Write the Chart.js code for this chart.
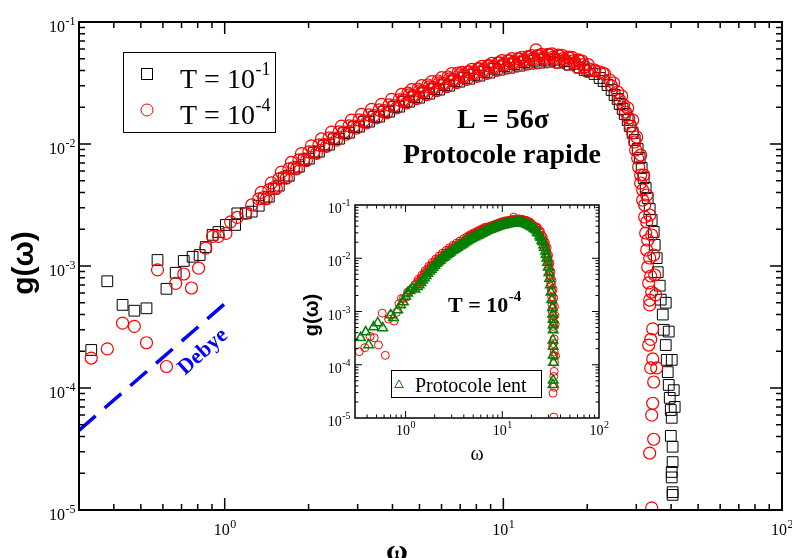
<!DOCTYPE html>
<html>
<head>
<meta charset="utf-8">
<script src="https://cdn.jsdelivr.net/npm/chart.js@4.4.0/dist/chart.umd.min.js"></script>
<style>
  body { margin: 0; background: #fff; }
  #wrap { position: relative; width: 792px; height: 558px; overflow: hidden; background: #fff; }
  #mainChart { position: absolute; left: 0; top: 0; }
  #insetChart { position: absolute; left: 300px; top: 190px; }
</style>
</head>
<body>
<div id="wrap">
  <canvas id="mainChart" width="792" height="558"></canvas>
  <canvas id="insetChart" width="315" height="280"></canvas>
</div>
<script>
// g(omega) pour T = 1e-1 (carrés noirs), [omega, g]
const pointsT1 = [
  [0.332,2.05e-4],[0.379,7.5e-4],[0.43,4.8e-4],[0.474,4.3e-4],[0.524,4.5e-4],[0.574,1.12e-3],
  [0.618,6.5e-4],[0.667,8.8e-4],[0.713,1.1e-3],[0.767,1.19e-3],[0.813,1.23e-3],[0.855,1.43e-3],
  [0.905,1.8e-3],[0.95,1.9e-3],[1.01,2.17e-3],[1.09,2.17e-3],[1.11,2.7e-3],[1.19,2.7e-3],
  [1.25,2.79e-3],[1.325,3.12e-3],[1.381,3.56e-3],[1.44,3.70e-3],[1.501,4.30e-3],[1.564,4.56e-3],
  [1.63,5.24e-3],[1.699,5.50e-3],[1.771,6.27e-3],[1.846,6.52e-3],[1.924,7.36e-3],[2.005,7.58e-3],
  [2.09,8.48e-3],[2.179,8.65e-3],[2.271,9.68e-3],[2.367,9.88e-3],[2.467,1.094e-2],[2.572,1.106e-2],
  [2.68,1.226e-2],[2.793,1.239e-2],[2.911,1.373e-2],[3.034,1.387e-2],[3.162,1.523e-2],[3.296,1.525e-2],
  [3.436,1.673e-2],[3.581,1.675e-2],[3.732,1.839e-2],[3.89,1.841e-2],[4.054,2.021e-2],[4.226,2.024e-2],
  [4.405,2.221e-2],[4.591,2.223e-2],[4.785,2.418e-2],[4.987,2.398e-2],[5.198,2.607e-2],[5.418,2.586e-2],
  [5.647,2.812e-2],[5.886,2.789e-2],[6.135,3.033e-2],[6.394,3.008e-2],[6.664,3.27e-2],[6.946,3.243e-2],
  [7.24,3.493e-2],[7.546,3.432e-2],[7.865,3.699e-2],[8.198,3.632e-2],[8.545,3.912e-2],[8.905,3.844e-2],
  [9.282,4.14e-2],[9.674,4.067e-2],[10.08,4.34e-2],[10.51,4.223e-2],[10.95,4.51e-2],[11.42,4.386e-2],
  [11.9,4.68e-2],[12.4,4.555e-2],[12.93,4.814e-2],[13.48,4.642e-2],[14.04,4.906e-2],[14.64,4.73e-2],
  [15.26,4.906e-2],[15.9,4.642e-2],[16.58,4.77e-2],[17.28,4.47e-2],[18.01,4.55e-2],[18.77,4.223e-2],
  [19.56,4.05e-2],[20.39,3.967e-2],[21.25,3.748e-2],[22.15,3.476e-2],[22.89,3.284e-2],[23.66,3.044e-2],
  [24.46,2.771e-2],[25.07,2.521e-2],[25.71,2.338e-2],[26.15,2.128e-2],[26.8,1.936e-2],[27.25,1.762e-2],
  [27.93,1.573e-2],[28.4,1.405e-2],[29.11,1.231e-2],[29.6,1.078e-2],[30.34,9.1e-3],[30.85,7.68e-3],
  [31.36,6.36e-3],[31.89,5.26e-3],[32.42,4.36e-3],[32.96,3.61e-3],[33.51,2.93e-3],[34.07,2.38e-3],
  [34.64,1.9e-3],[34.93,1.49e-3],[35.51,1.16e-3],[35.81,8.9e-4],[36.41,6.9e-4],[36.71,5.3e-4],
  [37.33,4.0e-4],[37.64,3.0e-4],[38.27,2.25e-4],[38.58,1.7e-4],[38.9,1.35e-4],[39.22,1.06e-4],
  [39.55,8.3e-5],[39.88,6.6e-5],[38.27,5.0e-4],[39.22,2.9e-4],[40.21,1.7e-4],[40.88,9.6e-5],
  [41.2,7.0e-5],[40.2,5.7e-5],[39.9,4.05e-5],[40.5,3.3e-5],[40.5,2.47e-5],[40.2,2.05e-5],
  [40.2,1.85e-5],[40.5,1.4e-5],[40.5,1.33e-5]
];

// g(omega) pour T = 1e-4 (cercles rouges), protocole rapide
const pointsT4 = [
  [0.332,1.76e-4],[0.379,2.09e-4],[0.43,3.4e-4],[0.474,3.2e-4],[0.524,2.35e-4],[0.574,9.3e-4],
  [0.618,1.5e-4],[0.667,7.2e-4],[0.713,8.6e-4],[0.76,6.6e-4],[0.806,9.6e-4],[0.855,1.4e-3],
  [0.905,1.75e-3],[0.95,1.75e-3],[1.01,1.85e-3],[1.05,2.3e-3],[1.11,2.5e-3],[1.19,2.7e-3],
  [1.25,3.165e-3],[1.325,3.545e-3],[1.381,3.643e-3],[1.44,4.202e-3],[1.501,4.399e-3],[1.564,5.17e-3],
  [1.63,5.363e-3],[1.699,6.245e-3],[1.771,6.418e-3],[1.846,7.4e-3],[1.924,7.534e-3],[2.005,8.61e-3],
  [2.09,8.68e-3],[2.179,9.82e-3],[2.271,9.91e-3],[2.367,1.121e-2],[2.467,1.12e-2],[2.572,1.255e-2],
  [2.68,1.254e-2],[2.793,1.406e-2],[2.911,1.405e-2],[3.034,1.574e-2],[3.162,1.558e-2],[3.296,1.73e-2],
  [3.436,1.712e-2],[3.581,1.901e-2],[3.732,1.882e-2],[3.89,2.089e-2],[4.054,2.068e-2],[4.226,2.297e-2],
  [4.405,2.273e-2],[4.591,2.523e-2],[4.785,2.474e-2],[4.987,2.722e-2],[5.198,2.668e-2],[5.418,2.935e-2],
  [5.647,2.877e-2],[5.886,3.165e-2],[6.135,3.103e-2],[6.394,3.413e-2],[6.664,3.346e-2],[6.946,3.681e-2],
  [7.24,3.575e-2],[7.546,3.895e-2],[7.865,3.784e-2],[8.198,4.123e-2],[8.545,4.004e-2],[8.905,4.363e-2],
  [9.282,4.236e-2],[9.674,4.616e-2],[10.08,4.441e-2],[10.51,4.794e-2],[10.95,4.612e-2],[11.42,4.979e-2],
  [11.9,4.789e-2],[12.4,5.17e-2],[12.93,4.927e-2],[13.1,5.9e-2],[13.48,5.27e-2],[14.04,5.021e-2],
  [14.64,5.37e-2],[15.26,5.021e-2],[15.9,5.27e-2],[16.58,4.88e-2],[17.28,5.07e-2],[18.01,4.656e-2],
  [18.77,4.794e-2],
  // bords haut et bas de la bande
  [1.353,4.01e-3],[1.41,3.55e-3],[1.47,4.80e-3],[1.532,4.325e-3],[1.597,5.875e-3],[1.664,5.25e-3],
  [1.735,7.06e-3],[1.808,6.25e-3],[1.885,8.33e-3],[1.964,7.30e-3],[2.048,9.64e-3],[2.134,8.37e-3],
  [2.224,1.10e-2],[2.318,9.55e-3],[2.416,1.25e-2],[2.518,1.075e-2],[2.625,1.40e-2],[2.736,1.204e-2],
  [2.851,1.568e-2],[2.972,1.349e-2],[3.097,1.747e-2],[3.228,1.489e-2],[3.365,1.92e-2],[3.508,1.636e-2],
  [3.655,2.11e-2],[3.81,1.798e-2],[3.971,2.32e-2],[4.14,1.976e-2],[4.314,2.548e-2],[4.497,2.172e-2],
  [4.688,2.787e-2],[4.885,2.353e-2],[5.092,3.006e-2],[5.307,2.537e-2],[5.532,3.242e-2],[5.766,2.737e-2],
  [6.01,3.496e-2],[6.264,2.951e-2],[6.527,3.771e-2],[6.804,3.183e-2],[7.091,3.866e-2],[7.391,3.384e-2],
  [7.702,4.09e-2],[8.028,3.581e-2],[8.368,4.329e-2],[8.722,3.791e-2],[9.092,4.581e-2],[9.476,4.01e-2],
  [9.876,4.823e-2],[10.29,4.183e-2],[10.73,5.01e-2],[11.18,4.345e-2],[11.65,5.14e-2],[12.15,4.512e-2],
  [12.66,5.31e-2],[13.2,4.62e-2],[13.75,5.42e-2],[14.34,4.709e-2],[14.94,5.47e-2],[15.57,4.664e-2],
  [16.23,5.34e-2],[16.92,4.512e-2],[17.64,5.12e-2],[18.38,4.283e-2],[19.16,4.79e-2],[19.97,3.936e-2],
  // zone dense omega 4..20
  [4.36,2.298e-2],[4.544,2.611e-2],[4.737,2.507e-2],[4.935,2.823e-2],[5.145,2.705e-2],[5.362,3.044e-2],
  [5.589,2.917e-2],[5.826,3.283e-2],[6.072,3.146e-2],[6.327,3.54e-2],[6.596,3.392e-2],[6.874,3.819e-2],
  [7.165,3.632e-2],[7.468,3.912e-2],[7.784,3.844e-2],[8.114,4.141e-2],[8.457,4.068e-2],[8.813,4.382e-2],
  [9.186,4.305e-2],[9.574,4.636e-2],[9.979,4.522e-2],[10.4,4.826e-2],[10.84,4.697e-2],[11.3,5.012e-2],
  [11.78,4.877e-2],[12.27,5.205e-2],[12.79,5.03e-2],[13.34,5.317e-2],[13.9,5.126e-2],[14.49,5.418e-2],
  [15.1,5.15e-2],[15.74,5.342e-2],[16.4,5.018e-2],[17.1,5.156e-2],[17.82,4.799e-2],[18.58,4.884e-2],
  [19.36,4.471e-2],[20.17,4.466e-2],
  // chute vers omega ~ 33
  [19.56,4.276e-2],[20.39,4.119e-2],[21.25,3.967e-2],[21.25,4.042e-2],
  [22.15,3.892e-2],[24.06,3.346e-2],[25.71,2.668e-2],[27.02,2.088e-2],[28.17,1.633e-2],[29.11,1.231e-2],
  [29.84,8.93e-3],[30.59,6.48e-3],[31.1,4.79e-3],[31.62,3.475e-3],[32.15,2.521e-3],[32.42,1.864e-3],
  [32.69,1.352e-3],[32.96,9.81e-4],[33.23,7.26e-4],[33.51,5.26e-4],
  [23.09,3.748e-2],[24.87,3.162e-2],[26.58,2.474e-2],[27.93,1.973e-2],[29.11,1.573e-2],[30.09,1.141e-2],
  [31.1,8.12e-3],[31.89,5.57e-3],[32.69,3.82e-3],[33.51,2.618e-3],[34.07,1.795e-3],[34.64,1.231e-3],
  [34.93,8.44e-4],[35.23,5.79e-4],
  [22.71,3.819e-2],[24.46,2.988e-2],[26.15,2.294e-2],[27.47,1.83e-2],[28.63,1.405e-2],[29.6,1.038e-2],
  [30.34,7.68e-3],[31.1,5.57e-3],[31.62,4.2e-3],[32.15,3.162e-3],[32.69,2.294e-3],[32.96,1.633e-3],
  [33.51,1.163e-3],[33.79,8.28e-4],[34.07,6.12e-4],
  [33.51,4.8e-4],[34.36,3.05e-4],[33.79,2.5e-4],[33.23,2.25e-4],[34.36,1.73e-4],[33.79,1.46e-4],
  [35.51,1.46e-4],[34.64,1.12e-4],[34.36,7.5e-5],[34.07,6.0e-5],[34.64,3.8e-5],[33.51,2.93e-5],
  [34.07,1.04e-5]
];

// g(omega) protocole lent, T = 1e-4 (triangles verts, encart)
const pointsLent = [
  [0.343,3.2e-4],[0.387,4.1e-4],[0.415,2.35e-4],[0.468,5.1e-4],[0.515,6.1e-4],[0.58,4.9e-4],
  [0.70,8.6e-4],[0.75,7.6e-4],[0.83,1.07e-3],[0.89,1.33e-3],[0.95,1.5e-3],
  [1.0,1.91e-3],[1.05,2.19e-3],[1.11,2.45e-3],[1.17,2.69e-3],[1.25,2.63e-3],[1.325,2.92e-3],
  [1.381,3.16e-3],[1.44,3.47e-3],[1.501,3.85e-3],[1.564,4.27e-3],[1.63,4.68e-3],[1.699,5.19e-3],
  [1.771,5.69e-3],[1.846,6.17e-3],[1.924,6.68e-3],[2.005,7.33e-3],[2.09,7.94e-3],[2.179,8.51e-3],
  [2.271,9.12e-3],[2.367,9.77e-3],[2.467,1.035e-2],[2.572,1.096e-2],[2.68,1.161e-2],[2.793,1.23e-2],
  [2.911,1.303e-2],[3.034,1.38e-2],[3.162,1.445e-2],[3.296,1.514e-2],[3.436,1.585e-2],[3.581,1.679e-2],
  [3.732,1.758e-2],[3.89,1.841e-2],[4.054,1.928e-2],[4.226,2.042e-2],[4.405,2.138e-2],[4.591,2.239e-2],
  [4.785,2.328e-2],[4.987,2.415e-2],[5.198,2.512e-2],[5.418,2.612e-2],[5.647,2.71e-2],[5.886,2.818e-2],
  [6.135,2.931e-2],[6.394,3.041e-2],[6.664,3.162e-2],[6.946,3.289e-2],[7.24,3.388e-2],[7.546,3.491e-2],
  [7.865,3.589e-2],[8.198,3.698e-2],[8.545,3.802e-2],[8.905,3.908e-2],[9.282,4.018e-2],[9.674,4.121e-2],
  [10.08,4.198e-2],[10.51,4.266e-2],[10.95,4.345e-2],[11.42,4.416e-2],[11.9,4.498e-2],[12.4,4.571e-2],
  [12.93,4.613e-2],[13.48,4.645e-2],[14.04,4.677e-2],[14.64,4.71e-2],[15.26,4.677e-2],[15.9,4.624e-2],
  [16.58,4.54e-2],[17.28,4.446e-2],[18.01,4.315e-2],[18.77,4.188e-2],[19.56,3.981e-2],[20.39,3.802e-2],
  [21.25,3.589e-2],[22.15,3.388e-2],[23.0,3.09e-2],[23.66,2.951e-2],[24.46,2.63e-2],[25.07,2.455e-2],
  [25.71,2.188e-2],[26.15,2.042e-2],[26.8,1.778e-2],[27.25,1.585e-2],[27.93,1.349e-2],[28.4,1.175e-2],
  [28.87,1.0e-2],[29.35,8.32e-3],[29.84,6.76e-3],[30.34,5.37e-3],[30.85,4.17e-3],[31.36,3.16e-3],
  [31.89,2.29e-3],[32.42,1.66e-3],[32.96,1.17e-3],[33.2,8.9e-4],[33.5,7.1e-4],[33.6,5.6e-4],
  [33.6,4.5e-4],[33.4,2.9e-4],[33.6,2.2e-4],[33.6,1.5e-4],[33.8,1.1e-4],[33.6,5.1e-5],[33.4,4.2e-5]
];

// Droite de Debye (extrémités)
const debyeOmega = [0.3, 1.0];
const debyeG = [4.5e-5, 4.9e-4];

// Bornes des axes et exposants des étiquettes
const xRange = [0.3, 100];
const yRange = [1e-5, 1e-1];
const xTickExp = [0, 1, 2];
const yTickExp = [-5, -4, -3, -2, -1];

const toXY = arr => arr.map(p => ({ x: p[0], y: p[1] }));
const SERIF = '"Liberation Serif", "Times New Roman", serif';
const SANS = '"Liberation Sans", Arial, sans-serif';

// Graduations log : 1..9 x 10^k strictement à l'intérieur
function logTicks(min, max) {
  const out = [];
  for (let k = Math.floor(Math.log10(min)); k <= Math.ceil(Math.log10(max)); k++) {
    for (let m = 1; m <= 9; m++) {
      const v = m * Math.pow(10, k);
      if (v > min * 1.001 && v < max * 0.999) out.push({ v: v, major: m === 1 });
    }
  }
  return out;
}

// Écrit "10" avec exposant
function drawPow(ctx, exp, x, y, align, f) {
  const base = '10', sup = String(exp);
  ctx.font = f.weight + ' ' + f.size + 'px ' + SERIF;
  const wb = ctx.measureText(base).width;
  ctx.font = f.weight + ' ' + f.sup + 'px ' + SERIF;
  const ws = ctx.measureText(sup).width;
  let x0 = x;
  if (align === 'center') x0 = x - (wb + ws) / 2;
  if (align === 'right') x0 = x - wb - ws;
  ctx.textAlign = 'left';
  ctx.textBaseline = 'alphabetic';
  ctx.font = f.weight + ' ' + f.size + 'px ' + SERIF;
  ctx.fillText(base, x0, y);
  ctx.font = f.weight + ' ' + f.sup + 'px ' + SERIF;
  ctx.fillText(sup, x0 + wb + 0.5, y - f.rise);
  return x0 + wb + ws;
}

// Cadre, graduations vers l'intérieur et étiquettes 10^n
const logFrame = {
  id: 'logFrame',
  afterDatasetsDraw(chart, args, o) {
    const ctx = chart.ctx, a = chart.chartArea;
    const xs = chart.scales.x, ys = chart.scales.y;
    ctx.save();
    ctx.strokeStyle = '#000';
    ctx.fillStyle = '#000';
    ctx.lineWidth = o.tickWidth;
    ctx.beginPath();
    logTicks(xs.min, xs.max).forEach(t => {
      const px = xs.getPixelForValue(t.v);
      const len = t.major ? o.major : o.minor;
      ctx.moveTo(px, a.bottom); ctx.lineTo(px, a.bottom - len);
      ctx.moveTo(px, a.top); ctx.lineTo(px, a.top + len);
    });
    logTicks(ys.min, ys.max).forEach(t => {
      const py = ys.getPixelForValue(t.v);
      const len = t.major ? o.major : o.minor;
      ctx.moveTo(a.left, py); ctx.lineTo(a.left + len, py);
      ctx.moveTo(a.right, py); ctx.lineTo(a.right - len, py);
    });
    ctx.stroke();
    ctx.lineWidth = o.lineWidth;
    ctx.strokeRect(a.left, a.top, a.right - a.left, a.bottom - a.top);

    o.xExp.forEach(e => {
      drawPow(ctx, e, xs.getPixelForValue(Math.pow(10, e)), a.bottom + o.xLabelDy, 'center', o.font);
    });
    o.yExp.forEach(e => {
      drawPow(ctx, e, a.left - o.yLabelDx, ys.getPixelForValue(Math.pow(10, e)) + o.yLabelDy, 'right', o.font);
    });
    ctx.restore();
  }
};

// Textes du graphique principal : légende, titres, annotations
const mainTexts = {
  id: 'mainTexts',
  afterDraw(chart) {
    const ctx = chart.ctx;
    ctx.save();
    // légende
    ctx.strokeStyle = '#000';
    ctx.lineWidth = 1;
    ctx.strokeRect(123.5, 52.5, 152, 80);
    ctx.strokeRect(141.5, 68.5, 11, 11);
    ctx.strokeStyle = '#ff0000';
    ctx.beginPath();
    ctx.arc(147, 110, 6, 0, Math.PI * 2);
    ctx.stroke();
    ctx.fillStyle = '#000';
    const lf = { weight: 'normal', size: 28, sup: 18, rise: 13 };
    ctx.font = '28px ' + SERIF;
    ctx.textAlign = 'left';
    ctx.fillText('T = ', 180, 88);
    let w = ctx.measureText('T = ').width;
    drawPow(ctx, -1, 180 + w, 88, 'left', lf);
    ctx.font = '28px ' + SERIF;
    ctx.fillText('T = ', 180, 124);
    drawPow(ctx, -4, 180 + w, 124, 'left', lf);

    // annotations
    ctx.textAlign = 'center';
    ctx.font = 'bold 28px ' + SERIF;
    ctx.fillText('L = 56σ', 503, 128);
    ctx.fillText('Protocole rapide', 502, 163);

    ctx.save();
    ctx.translate(203, 352);
    ctx.rotate(-41.7 * Math.PI / 180);
    ctx.fillStyle = '#0000ff';
    ctx.font = 'bold 22px ' + SERIF;
    ctx.textBaseline = 'middle';
    ctx.fillText('Debye', 0, 0);
    ctx.restore();

    // titres des axes
    ctx.save();
    ctx.translate(25, 263);
    ctx.rotate(-Math.PI / 2);
    ctx.font = 'bold 30px ' + SANS;
    ctx.textBaseline = 'middle';
    ctx.fillText('g(ω)', 0, 0);
    ctx.restore();
    ctx.font = 'bold 30px ' + SERIF;
    ctx.textBaseline = 'alphabetic';
    ctx.fillText('ω', 397, 560);
    ctx.restore();
  }
};

const mainChart = new Chart(document.getElementById('mainChart').getContext('2d'), {
  type: 'scatter',
  data: {
    datasets: [
      {
        label: 'Debye',
        type: 'line',
        data: debyeOmega.map((x, i) => ({ x: x, y: debyeG[i] })),
        borderColor: '#0000ff',
        borderWidth: 3.5,
        borderDash: [22, 12],
        pointRadius: 0,
        fill: false
      },
      {
        label: 'T = 10^-4',
        data: toXY(pointsT4),
        pointStyle: 'circle',
        pointRadius: 6,
        borderColor: '#ff0000',
        backgroundColor: 'rgba(0,0,0,0)',
        borderWidth: 1.2
      },
      {
        label: 'T = 10^-1',
        data: toXY(pointsT1),
        pointStyle: 'rect',
        pointRadius: 7.6,
        borderColor: '#000',
        backgroundColor: 'rgba(0,0,0,0)',
        borderWidth: 1
      }
    ]
  },
  options: {
    responsive: false,
    devicePixelRatio: 1,
    animation: false,
    events: [],
    layout: { padding: { left: 79, top: 22, right: 10, bottom: 48 } },
    scales: {
      x: { type: 'logarithmic', min: xRange[0], max: xRange[1], display: false },
      y: { type: 'logarithmic', min: yRange[0], max: yRange[1], display: false }
    },
    plugins: {
      legend: { display: false },
      tooltip: { enabled: false },
      logFrame: {
        lineWidth: 2, tickWidth: 1.5, major: 12, minor: 6,
        xExp: xTickExp, yExp: yTickExp,
        xLabelDy: 25, yLabelDx: 4, yLabelDy: 10,
        font: { weight: 'normal', size: 16, sup: 12, rise: 7 }
      }
    }
  },
  plugins: [logFrame, mainTexts]
});

// Textes de l'encart
const insetTexts = {
  id: 'insetTexts',
  afterDraw(chart) {
    const ctx = chart.ctx;
    ctx.save();
    ctx.fillStyle = '#000';
    const tf = { weight: 'bold', size: 22, sup: 15, rise: 11 };
    ctx.font = 'bold 22px ' + SERIF;
    ctx.textAlign = 'left';
    ctx.fillText('T = ', 148, 122);
    drawPow(ctx, -4, 148 + ctx.measureText('T = ').width, 122, 'left', tf);

    // légende
    ctx.fillStyle = '#fff';
    ctx.fillRect(91, 180, 150, 27);
    ctx.strokeStyle = '#000';
    ctx.lineWidth = 1;
    ctx.strokeRect(91.5, 180.5, 150, 27);
    ctx.strokeStyle = '#008000';
    ctx.beginPath();
    ctx.moveTo(99, 190); ctx.lineTo(103.3, 197.5); ctx.lineTo(94.7, 197.5); ctx.closePath();
    ctx.stroke();
    ctx.fillStyle = '#000';
    ctx.font = '20px ' + SERIF;
    ctx.fillText('Protocole lent', 115, 202);

    // titres des axes
    ctx.save();
    ctx.translate(12, 125);
    ctx.rotate(-Math.PI / 2);
    ctx.font = 'bold 20px ' + SANS;
    ctx.textAlign = 'center';
    ctx.textBaseline = 'middle';
    ctx.fillText('g(ω)', 0, 0);
    ctx.restore();
    ctx.font = '20px ' + SERIF;
    ctx.textAlign = 'center';
    ctx.fillText('ω', 177, 270);
    ctx.restore();
  }
};

const insetChart = new Chart(document.getElementById('insetChart').getContext('2d'), {
  type: 'scatter',
  data: {
    datasets: [
      {
        label: 'Protocole lent',
        data: toXY(pointsLent),
        pointStyle: 'triangle',
        pointRadius: 5.5,
        borderColor: '#008000',
        backgroundColor: 'rgba(0,0,0,0)',
        borderWidth: 1.5
      },
      {
        label: 'Protocole rapide',
        data: toXY(pointsT4),
        pointStyle: 'circle',
        pointRadius: 4,
        borderColor: '#ff0000',
        backgroundColor: 'rgba(0,0,0,0)',
        borderWidth: 1
      }
    ]
  },
  options: {
    responsive: false,
    devicePixelRatio: 1,
    animation: false,
    events: [],
    layout: { padding: { left: 55, top: 15, right: 16, bottom: 52 } },
    scales: {
      x: { type: 'logarithmic', min: xRange[0], max: xRange[1], display: false },
      y: { type: 'logarithmic', min: yRange[0], max: yRange[1], display: false }
    },
    plugins: {
      legend: { display: false },
      tooltip: { enabled: false },
      logFrame: {
        lineWidth: 1.5, tickWidth: 1, major: 7, minor: 3.5,
        xExp: xTickExp, yExp: yTickExp,
        xLabelDy: 17, yLabelDx: 5, yLabelDy: 8,
        font: { weight: 'normal', size: 14, sup: 10, rise: 7 }
      }
    }
  },
  plugins: [logFrame, insetTexts]
});
</script>
</body>
</html>
